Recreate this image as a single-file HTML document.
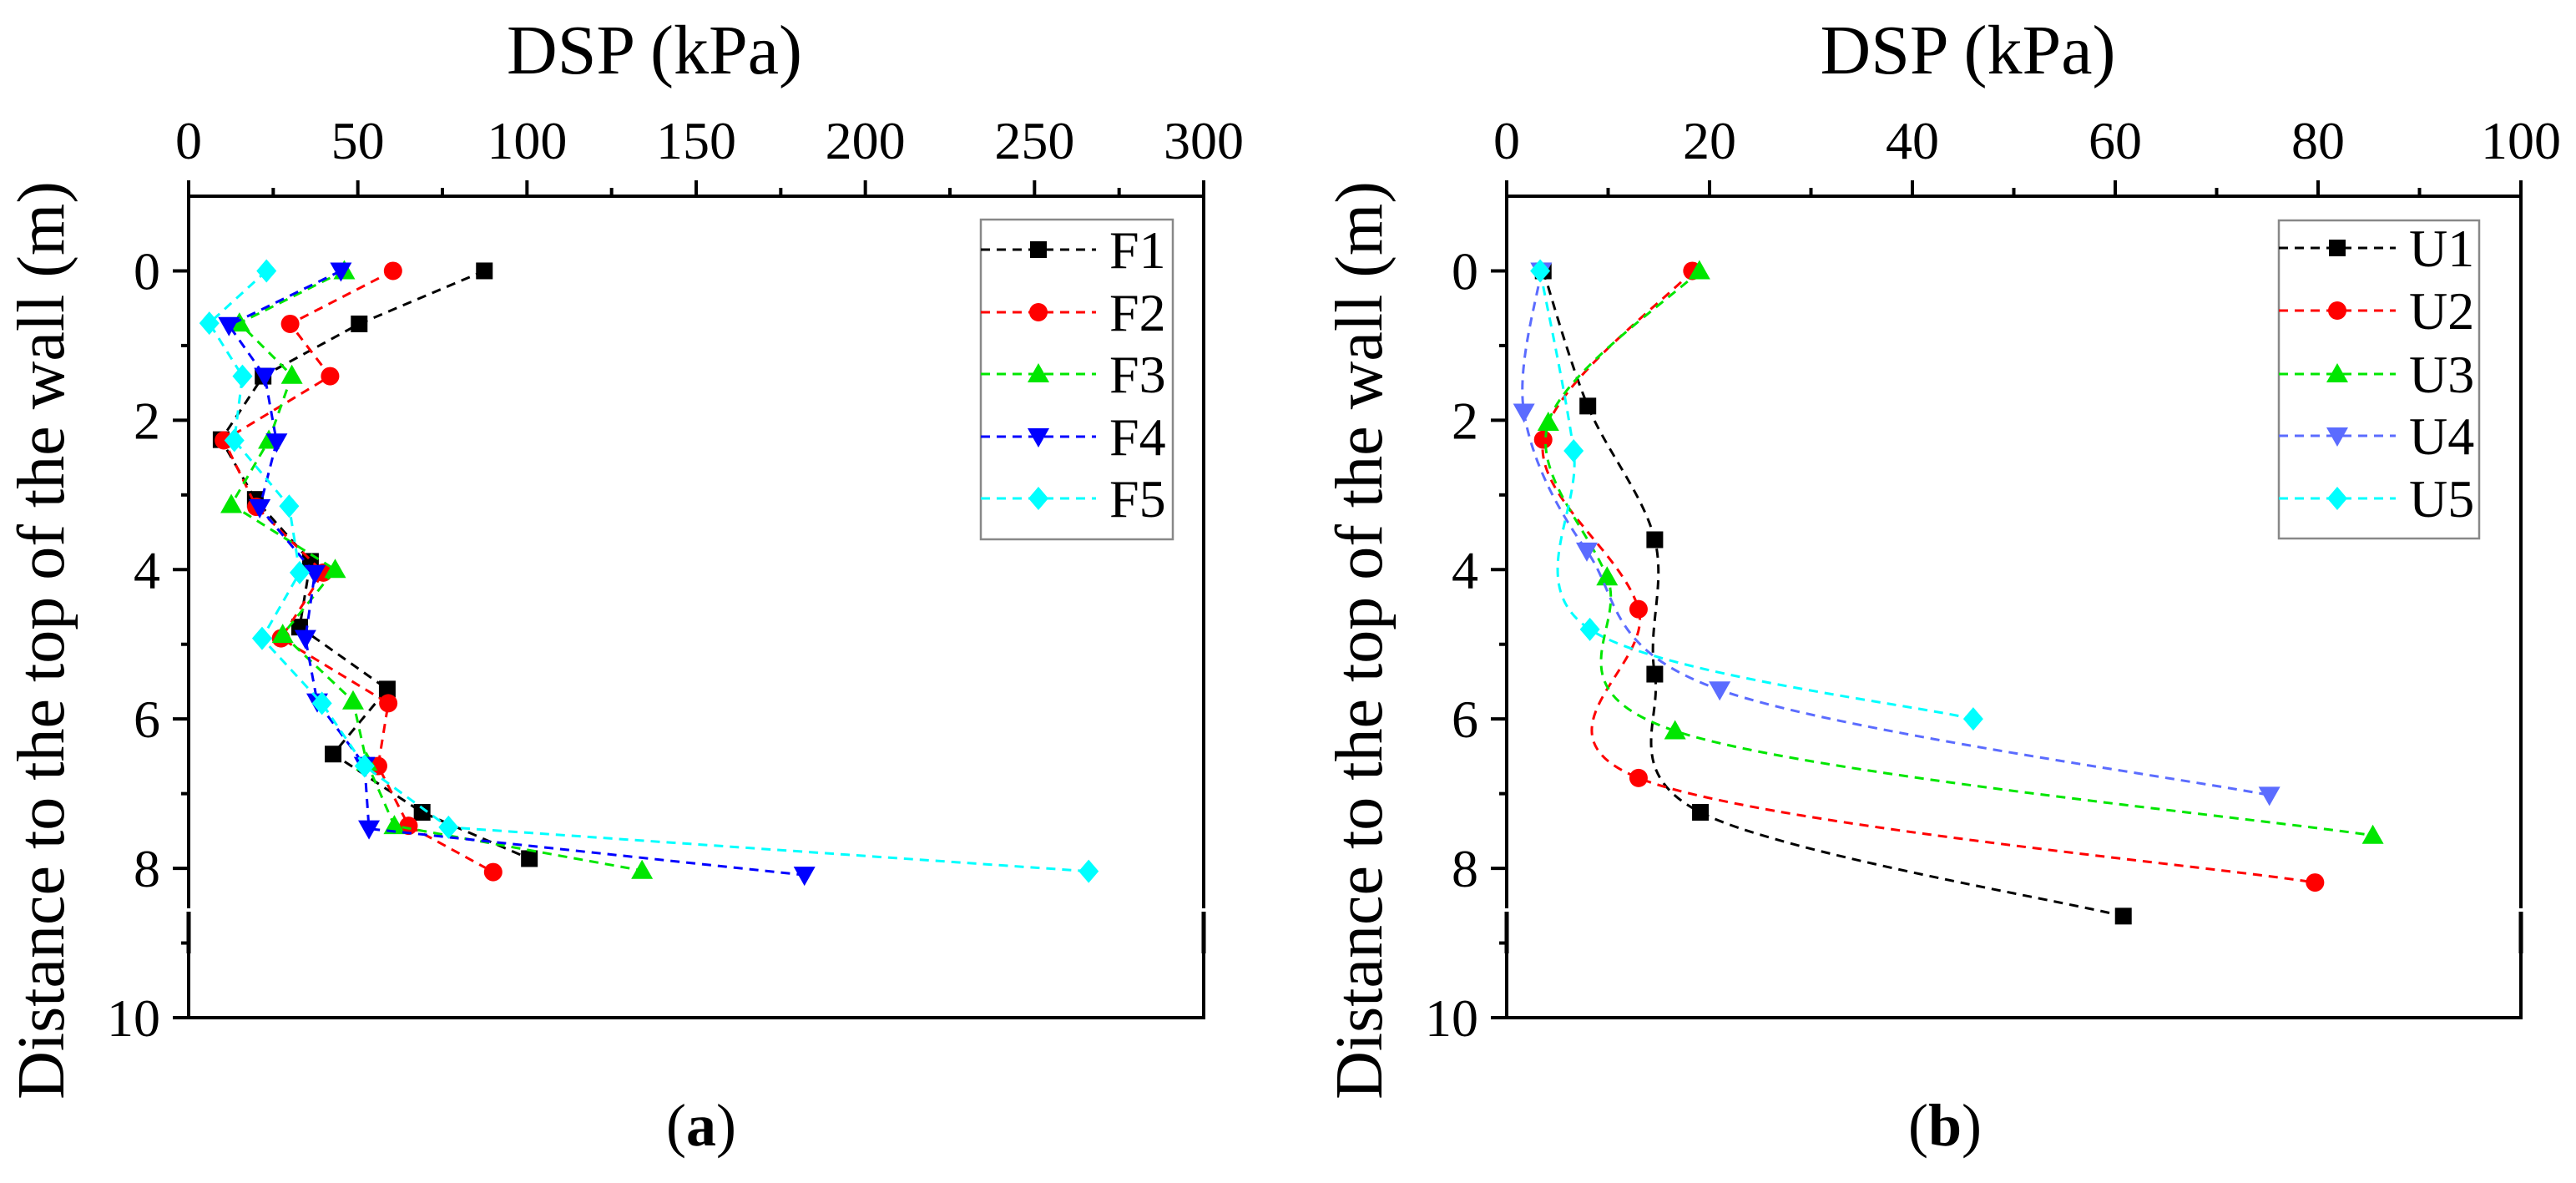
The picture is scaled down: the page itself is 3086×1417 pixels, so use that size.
<!DOCTYPE html>
<html><head><meta charset="utf-8"><style>
html,body{margin:0;padding:0;background:#fff;}
svg, svg text{font-family:"Liberation Serif","DejaVu Serif","Times New Roman",serif;}
</style></head><body>
<svg id="chart" width="3086" height="1412" viewBox="0 0 3086 1412" xmlns="http://www.w3.org/2000/svg" font-family="Liberation Serif, DejaVu Serif, serif"></svg>
<script>
// ---- data: panel (a) ----
const fNames = ["F1","F2","F3","F4","F5"];
const f1x = [87.4,50.4,22,9.6,19.7,36,32.8,58.7,42.7,69,100.7];
const f1y = [0,0.71,1.41,2.26,3.06,3.89,4.77,5.6,6.47,7.25,7.87];
const f2x = [60.4,30,41.8,10.4,20,39.8,27.3,59,56,65,90];
const f2y = [0,0.71,1.41,2.27,3.16,4.04,4.92,5.79,6.63,7.43,8.05];
const f3x = [46,15,30.5,23.7,12.6,43.3,27.8,48.6,52.6,60.8,134];
const f3y = [0,0.7,1.4,2.27,3.13,4.0,4.87,5.76,6.58,7.43,8.03];
const f4x = [45,11.9,22.5,26,21,37.3,34.5,38,52,53.3,182];
const f4y = [0,0.73,1.41,2.29,3.17,4.05,4.92,5.77,6.62,7.47,8.09];
const f5x = [23,6.1,15.9,13.5,29.7,32.8,21.7,39.4,52,76.8,266];
const f5y = [0,0.7,1.41,2.27,3.15,4.04,4.92,5.79,6.63,7.45,8.04];
// ---- data: panel (b) ----
const uNames = ["U1","U2","U3","U4","U5"];
const u1x = [3.6,8,14.6,14.6,19.1,60.8];
const u1y = [0,1.81,3.6,5.4,7.25,8.64];
const u2x = [18.3,3.6,13,13,79.7];
const u2y = [0,2.26,4.53,6.79,8.19];
const u3x = [19,4.1,9.9,16.6,85.4];
const u3y = [0,2.03,4.1,6.16,7.56];
const u4x = [3.4,1.7,7.9,21,75.2];
const u4y = [0,1.89,3.75,5.61,7.02];
const u5x = [3.3,6.6,8.2,46];
const u5y = [0,2.41,4.8,6.0];
const xTicksA = [0,50,100,150,200,250,300];
const xTicksB = [0,20,40,60,80,100];
const yTicks = [0,2,4,6,8,10];

const colors = ["#000000","#ff0000","#00e600","#0000ff","#00ffff"];
const colorsB = ["#000000","#ff0000","#00e600","#5b6cff","#00ffff"];
const shapes = ["square","circle","up","down","diamond"];
const FONT = "Liberation Serif, DejaVu Serif, serif";

const NS = "http://www.w3.org/2000/svg";
const svg = document.getElementById("chart");
function mk(tag, attrs, parent){
  const e = document.createElementNS(NS, tag);
  for (const k in attrs) e.setAttribute(k, attrs[k]);
  (parent||svg).appendChild(e);
  return e;
}
function txt(s, attrs, parent){ attrs["font-family"]=FONT; const t = mk("text", attrs, parent); t.textContent = s; return t; }

function marker(g, shape, cx, cy, color){
  let e;
  if (shape==="square") e = mk("rect",{x:cx-10,y:cy-10,width:20,height:20,fill:color},g);
  else if (shape==="circle") e = mk("circle",{cx:cx,cy:cy,r:11,fill:color},g);
  else if (shape==="up") e = mk("polygon",{points:`${cx},${cy-13} ${cx-13},${cy+10} ${cx+13},${cy+10}`,fill:color},g);
  else if (shape==="down") e = mk("polygon",{points:`${cx},${cy+13} ${cx-13},${cy-10} ${cx+13},${cy-10}`,fill:color},g);
  else e = mk("polygon",{points:`${cx},${cy-14} ${cx+12},${cy} ${cx},${cy+14} ${cx-12},${cy}`,fill:color},g);
  
  
  return e;
}

function smoothPath(pts){
  if (pts.length<3) return "M"+pts.map(p=>p.join(",")).join(" L");
  let d = `M${pts[0][0]},${pts[0][1]}`;
  for (let i=0;i<pts.length-1;i++){
    const p0=pts[i-1]||pts[i], p1=pts[i], p2=pts[i+1], p3=pts[i+2]||p2;
    const c1=[p1[0]+(p2[0]-p0[0])/6, p1[1]+(p2[1]-p0[1])/6];
    const c2=[p2[0]-(p3[0]-p1[0])/6, p2[1]-(p3[1]-p1[1])/6];
    d += ` C${c1[0]},${c1[1]} ${c2[0]},${c2[1]} ${p2[0]},${p2[1]}`;
  }
  return d;
}

function panel(cfg){
  const {L,R,T,B,xmax,xTicks,minorStep,name,title,panelLabel,labelX} = cfg;
  const g = mk("g",{});
  
  
  const X = v => L + (v/xmax)*(R-L);
  const Y = v => T + ((v+1)/11)*(B-T);
  const fr = mk("path",{d:`M${L},${B} L${L},${T} L${R},${T} L${R},${B} Z`,fill:"none",stroke:"#000","stroke-width":4},g);
  
  
  [L,R].forEach(x=>{
    mk("line",{x1:x,y1:1088,x2:x,y2:1092,stroke:"#fff","stroke-width":6},g);
    mk("line",{x1:x,y1:1092,x2:x,y2:1142,stroke:"#000","stroke-width":5},g);
  });
  for (let v=0; v<=xmax+1e-9; v+=minorStep){
    const major = xTicks.some(t=>Math.abs(t-v)<1e-9);
    mk("line",{x1:X(v),y1:T,x2:X(v),y2:T-(major?19:10),stroke:"#000","stroke-width":4},g);
  }
  xTicks.forEach(v=>{
    const t = txt(String(v),{x:X(v),y:190,"font-size":64,"text-anchor":"middle",fill:"#000"},g);
    
    
  });
  for (let v=0; v<=10; v+=1){
    const major = yTicks.includes(v);
    mk("line",{x1:L,y1:Y(v),x2:L-(major?19:9),y2:Y(v),stroke:"#000","stroke-width":4},g);
  }
  yTicks.forEach(v=>{
    const t = txt(String(v),{x:L-34,y:Y(v)+22,"font-size":64,"text-anchor":"end",fill:"#000"},g);
    
    
  });
  const tt = txt(title,{x:(L+R)/2+(cfg.titleDx||0),y:88,"font-size":84,"text-anchor":"middle",fill:"#000"},g);
  
  
  const yt = txt("Distance to the top of the wall (m)",{x:0,y:0,"font-size":80,"text-anchor":"middle",fill:"#000",transform:`translate(${L-150},${(T+B)/2+40}) rotate(-90)`},g);
  
  
  const pl = mk("text",{x:labelX,y:1372,"font-size":72,"text-anchor":"middle",fill:"#000","font-family":FONT},g);
  pl.appendChild(document.createTextNode("("));
  const bs = mk("tspan",{"font-weight":"bold"},pl); bs.textContent = panelLabel;
  pl.appendChild(document.createTextNode(")"));
  
  
  return {g,X,Y};
}

function series(p, xs, ys, color, shape, smooth, sname){
  const sg = mk("g",{},p.g);
  
  
  const pts = xs.map((v,i)=>[p.X(v),p.Y(ys[i])]);
  const d = smooth ? smoothPath(pts) : "M"+pts.map(q=>q.join(",")).join(" L");
  const ln = mk("path",{d:d,fill:"none",stroke:color,"stroke-width":3,"stroke-dasharray":"11 8"},sg);
  
  
  pts.forEach(q=>marker(sg,shape,q[0],q[1],color));
}

function legend(box, names, cols){
  const lg = mk("g",{},svg);
  
  
  mk("rect",{x:box.x,y:box.y,width:box.w,height:box.h,fill:"#fff",stroke:"#888","stroke-width":2.5},lg);
  names.forEach((n,i)=>{
    const eg = mk("g",{},lg);
    
    
    const y = box.ys[i];
    mk("line",{x1:box.x,y1:y,x2:box.x+box.lw,y2:y,stroke:cols[i],"stroke-width":3,"stroke-dasharray":"11 8"},eg);
    marker(eg,shapes[i],box.x+box.lw/2,y,cols[i]);
    txt(n,{x:box.x+box.lw+16,y:y+22,"font-size":64,fill:"#000"},eg);
  });
}

const pa = panel({L:226,R:1442,T:235,B:1219,xmax:300,xTicks:xTicksA,minorStep:25,name:"panel-a",title:"DSP (kPa)",panelLabel:"a",labelX:840,titleDx:-50});
const fx=[f1x,f2x,f3x,f4x,f5x], fy=[f1y,f2y,f3y,f4y,f5y];
fx.forEach((xs,i)=>series(pa,xs,fy[i],colors[i],shapes[i],false,"series-"+fNames[i].toLowerCase()));
legend({x:1175,y:263,w:230,h:383,lw:138,ys:[299,374,448,523,597]},fNames,colors);

const pb = panel({L:1805,R:3020,T:235,B:1219,xmax:100,xTicks:xTicksB,minorStep:10,name:"panel-b",title:"DSP (kPa)",panelLabel:"b",labelX:2330,titleDx:-55});
const ux=[u1x,u2x,u3x,u4x,u5x], uy=[u1y,u2y,u3y,u4y,u5y];
ux.forEach((xs,i)=>series(pb,xs,uy[i],colorsB[i],shapes[i],true,"series-"+uNames[i].toLowerCase()));
legend({x:2730,y:264,w:240,h:381,lw:140,ys:[297,372,448,522,597]},uNames,colorsB);
</script>
</body></html>
